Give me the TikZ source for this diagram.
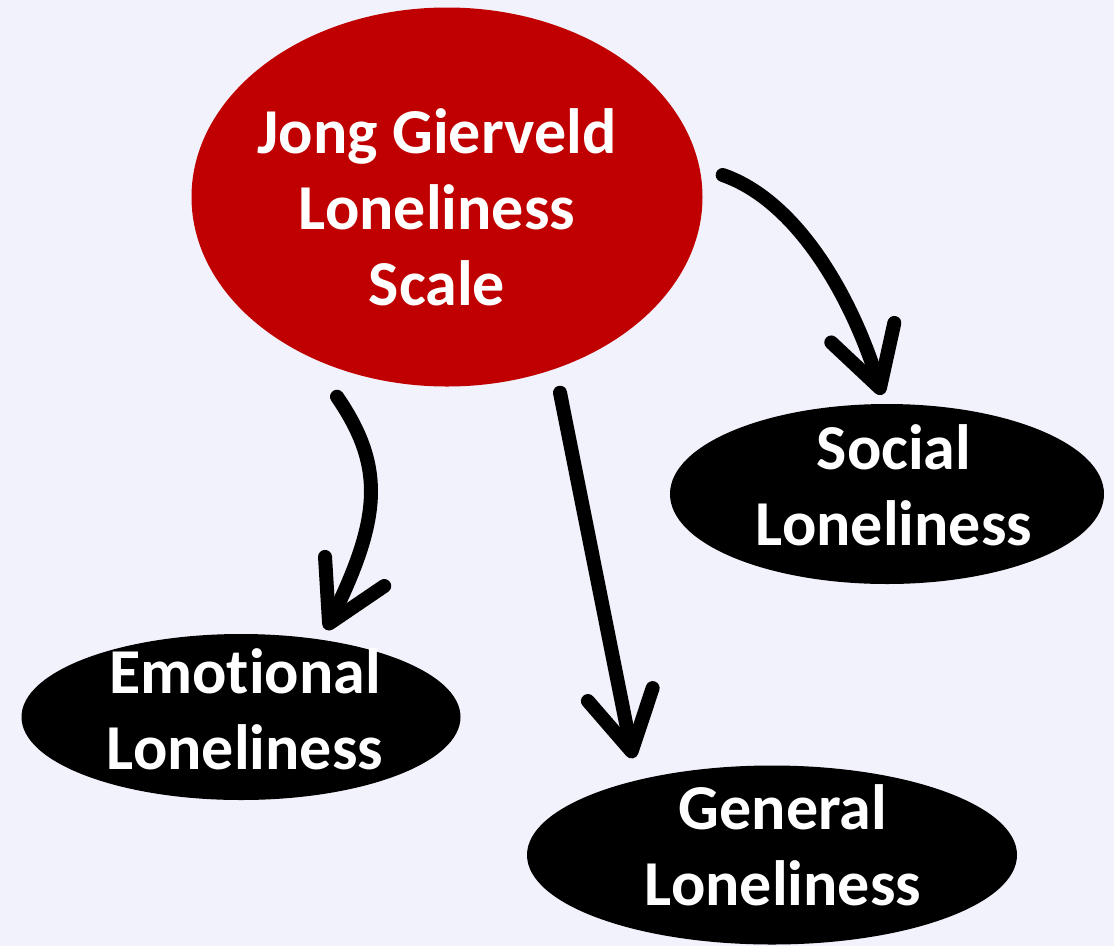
\documentclass[tikz,border=0pt]{standalone}
\usepackage{fontspec}
\setmainfont{Carlito}[Ligatures=NoCommon]
\usetikzlibrary{shapes.geometric,arrows.meta,calc}
\definecolor{bgc}{RGB}{242,242,252}
\definecolor{redc}{RGB}{192,0,0}
\tikzset{
  bubble/.style={ellipse, inner sep=0pt},
  redbubble/.style={bubble, fill=redc},
  blackbubble/.style={bubble, fill=black},
  bubbletext/.style={text=white, align=center, inner sep=0pt,
    font=\fontsize{64}{76}\selectfont\bfseries},
  arr/.style={line width=14pt, line cap=round, line join=round, draw=black,
    -{Straight Barb[length=58pt,width=66pt,round]}}
}
\begin{document}
\begin{tikzpicture}[x=1pt,y=-1pt]
\fill[bgc] (0,0) rectangle (1114,946);
\useasboundingbox (0,0) rectangle (1114,946);
\node[redbubble, minimum width=511pt, minimum height=379pt,
  label={[bubbletext, xshift=-10pt, yshift=-10pt]center:{Jong Gierveld\\Loneliness\\Scale}}] (red) at (447,197) {};
\node[blackbubble, minimum width=434pt, minimum height=180pt,
  label={[bubbletext, xshift=7pt, yshift=9pt]center:{Social\\Loneliness}}] (social) at (887,494) {};
\node[blackbubble, minimum width=439pt, minimum height=166pt,
  label={[bubbletext, xshift=4pt, yshift=8pt]center:{Emotional\\Loneliness}}] (emo) at (241,717) {};
\node[blackbubble, minimum width=490pt, minimum height=179pt,
  label={[bubbletext, xshift=11pt, yshift=10pt]center:{General\\Loneliness}}] (gen) at (772,855) {};
\draw[arr] ($(red.east)+(20,-22)$) .. controls ($(red.east)+(95,4)$) and ($(social.north)+(-35,-106)$) .. ($(social.north)+(-5,-9)$);
\draw[arr] ($(red.south)+(-110,10)$) .. controls ($(red.south)+(-62,80)$) and ($(emo.north)+(140,-116)$) .. ($(emo.north)+(85,-4)$);
\draw[arr] ($(red.south)+(113,6)$) -- ($(gen.north)+(-139,-7)$);
\end{tikzpicture}
\end{document}
